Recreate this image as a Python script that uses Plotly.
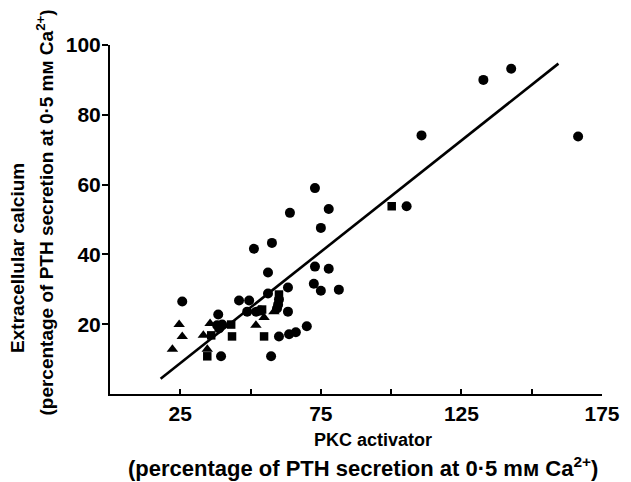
import plotly.graph_objects as go

# Circles
circle_x = [25.7, 45.9, 49.5, 38.5, 48.8, 52.0, 53.4, 38.1, 39.9, 38.8, 39.5, 56.2, 63.3, 72.5,
            75.0, 81.4, 60.1, 59.8, 59.4, 63.3, 60.1, 63.7, 66.1, 70.0, 57.3, 72.9, 64.0, 77.8,
            75.0, 57.6, 51.2, 56.2, 72.9, 77.8, 105.5, 110.8, 132.8, 142.7, 166.5]
circle_y = [26.5, 26.8, 26.8, 22.8, 23.6, 23.6, 23.9, 19.7, 19.9, 18.8, 10.8, 28.8, 30.5, 31.6,
            29.6, 29.9, 27.1, 25.6, 24.5, 23.6, 16.5, 17.1, 17.7, 19.4, 10.8, 59.0, 51.9, 53.0,
            47.6, 43.3, 41.6, 34.8, 36.5, 35.9, 53.8, 74.1, 90.0, 93.2, 73.8]

# Squares
square_x = [43.1, 36.0, 43.4, 34.6, 60.1, 54.1, 54.8, 100.2]
square_y = [19.9, 16.8, 16.5, 10.8, 28.5, 24.2, 16.5, 53.8]

# Triangles
tri_x = [24.6, 25.7, 22.2, 33.2, 35.6, 34.6, 51.9, 54.8, 58.3]
tri_y = [19.9, 16.5, 12.8, 16.8, 20.2, 12.8, 19.7, 21.9, 23.6]

# Regression line
fit_slope = 0.638
fit_intercept = -7.1
fit_x = [18, 159.5]
fit_y = [fit_slope * v + fit_intercept for v in fit_x]

x_tickvals = [25, 50, 75, 100, 125, 150, 175]
x_ticktext = ["25", " ", "75", " ", "125", " ", "175"]
y_tickvals = [20, 40, 60, 80, 100]

FONT = "Liberation Sans"

fig = go.Figure()
fig.add_trace(go.Scatter(x=fit_x, y=fit_y, mode="lines",
                         line=dict(color="black", width=2.6), showlegend=False))
fig.add_trace(go.Scatter(x=circle_x, y=circle_y, mode="markers",
                         marker=dict(symbol="circle", size=10, color="black"), showlegend=False))
fig.add_trace(go.Scatter(x=square_x, y=square_y, mode="markers",
                         marker=dict(symbol="square", size=8.5, color="black"), showlegend=False))
fig.add_trace(go.Scatter(x=tri_x, y=tri_y, mode="markers",
                         marker=dict(symbol="triangle-up", size=10, color="black"), showlegend=False))

# page has an 8px body margin, so the figure is sized to fit the remaining window
fig.update_layout(
    width=623, height=474,
    margin=dict(l=102, r=29, t=37, b=88),
    paper_bgcolor="white", plot_bgcolor="white",
    font=dict(family=FONT, size=21, color="black", weight="bold"),
    xaxis=dict(range=[0, 175], showgrid=False, zeroline=False, showline=True,
               linecolor="black", linewidth=2, ticks="inside", ticklen=5, tickwidth=2,
               tickcolor="black", tickvals=x_tickvals, ticktext=x_ticktext,
               ticklabelstandoff=0, automargin=False),
    yaxis=dict(range=[0, 100], showgrid=False, zeroline=False, showline=True,
               linecolor="black", linewidth=2, ticks="outside", ticklen=6, tickwidth=2,
               tickcolor="black", tickvals=y_tickvals, ticklabelstandoff=-3,
               automargin=False),
    annotations=[
        dict(text="PKC activator", xref="paper", yref="paper", x=0.535, y=0,
             yshift=-46, showarrow=False, xanchor="center", yanchor="middle",
             font=dict(size=18)),
        dict(text="(percentage of PTH secretion at 0·5 mᴍ Ca<sup>2+</sup>)", xref="paper", yref="paper",
             x=0.515, y=0, yshift=-73, showarrow=False, xanchor="center", yanchor="middle",
             font=dict(size=22)),
        dict(text="Extracellular calcium", xref="paper", yref="paper", x=0, y=0.39,
             xshift=-92, textangle=-90, showarrow=False, xanchor="center", yanchor="middle",
             font=dict(size=19)),
        dict(text="(percentage of PTH secretion at 0·5 mᴍ Ca<sup>2+</sup>)", xref="paper", yref="paper",
             x=0, y=0.52, xshift=-65, textangle=-90, showarrow=False, xanchor="center",
             yanchor="middle", font=dict(size=19)),
    ],
)

fig.write_html("out.html")
